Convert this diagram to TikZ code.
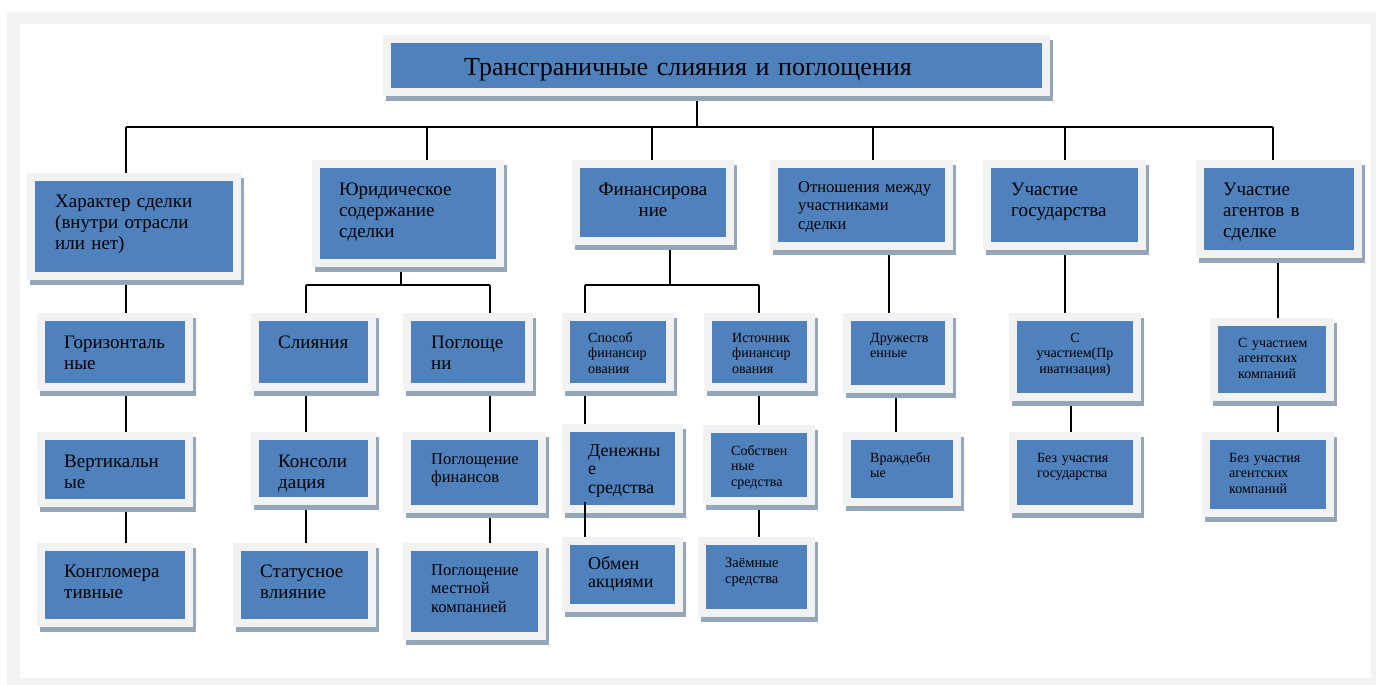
\documentclass[tikz,border=0pt]{standalone}
\usepackage{fontspec}
\setmainfont{Liberation Serif}
\usepackage{xcolor}
\usepackage{tikz}
\usetikzlibrary{calc}
\definecolor{boxblue}{HTML}{4F81BD}
\definecolor{framegray}{HTML}{F2F2F2}
\definecolor{shadowblue}{HTML}{97A5B9}
\pgfdeclarelayer{bg}
\pgfsetlayers{bg,main}
\newcommand\bigtxt{\fontsize{19}{21}\selectfont}
\newcommand\midtxt{\fontsize{16.5}{18.5}\selectfont}
\newcommand\smalltxt{\fontsize{14}{15.5}\selectfont}
\tikzstyle{frm}=[fill=framegray,inner sep=0pt,anchor=north west]
\tikzstyle{txt}=[inner sep=0pt,text width=170pt,align=left,anchor=base west,text=black]
\tikzstyle{ctxt}=[txt,align=center,anchor=base]
\tikzstyle{link}=[line width=1.6pt,black]
\newcommand\ubox[5]{%
  \fill[shadowblue] (#2+3,#3+5) rectangle (#4+3,#5+5);
  \node[frm,minimum width=#4-#2,minimum height=#5-#3] (#1) at (#2,#3) {};
  \fill[boxblue] (#2+8,#3+8) rectangle (#4-8,#5-8);
}

\begin{document}
\begin{tikzpicture}[x=1pt,y=-1pt]
	\useasboundingbox (0,0) rectangle (1376,685);
	\begin{pgfonlayer}{bg}
	\fill[framegray] (7,12) rectangle (1376,685);
	\fill[white] (20,24) rectangle (1371,678);
	\end{pgfonlayer}
	% title and first row
	\ubox{ttl}{383}{35}{1050}{96}
	\node[ctxt,text width=600pt,font=\fontsize{26}{28}\selectfont] (ttlt) at (688,76) {Трансграничные слияния и поглощения};
	\ubox{n1}{27}{173}{241}{280}
	\node[txt,font=\bigtxt] (n1t) at (55,207) {Характер сделки\\(внутри отрасли\\или нет)};
	\ubox{n2}{312}{160}{504}{267}
	\node[txt,font=\bigtxt] (n2t) at (339,195) {Юридическое\\содержание\\сделки};
	\ubox{n3}{572}{160}{734}{245}
	\node[ctxt,font=\bigtxt] (n3t) at (653,195) {Финансирова\\ние};
	\ubox{n4}{770}{160}{953}{250}
	\node[txt,font=\midtxt] (n4t) at (798,192) {Отношения между\\участниками\\сделки};
	\ubox{n5}{983}{160}{1146}{250}
	\node[txt,font=\bigtxt] (n5t) at (1011,195) {Участие\\государства};
	\ubox{n6}{1196}{160}{1362}{258}
	\node[txt,font=\bigtxt] (n6t) at (1223,195) {Участие\\агентов в\\сделке};
	% second row and below
	\ubox{g1}{37}{313}{193}{391}
	\node[txt,font=\bigtxt] (g1t) at (64,348) {Горизонталь\\ные};
	\ubox{g2}{37}{432}{193}{507}
	\node[txt,font=\bigtxt] (g2t) at (64,467) {Вертикальн\\ые};
	\ubox{g3}{37}{543}{193}{627}
	\node[txt,font=\bigtxt] (g3t) at (64,577) {Конгломера\\тивные};
	\ubox{s1}{251}{313}{376}{391}
	\node[txt,font=\bigtxt] (s1t) at (278,348) {Слияния};
	\ubox{s2}{251}{432}{376}{505}
	\node[txt,font=\bigtxt] (s2t) at (278,467) {Консоли\\дация};
	\ubox{s3}{233}{543}{376}{627}
	\node[txt,font=\bigtxt] (s3t) at (260,577) {Статусное\\влияние};
	\ubox{p1}{403}{313}{533}{391}
	\node[txt,font=\bigtxt] (p1t) at (431,348) {Поглоще\\ни};
	\ubox{p2}{403}{432}{546}{513}
	\node[txt,font=\midtxt] (p2t) at (431,464) {Поглощение\\финансов};
	\ubox{p3}{403}{543}{546}{640}
	\node[txt,font=\midtxt] (p3t) at (431,575) {Поглощение\\местной\\компанией};
	\ubox{f1}{562}{313}{674}{391}
	\node[txt,font=\smalltxt] (f1t) at (588,342) {Способ\\финансир\\ования};
	\ubox{f2}{562}{424}{683}{513}
	\node[txt,font=\fontsize{18}{18.5}\selectfont] (f2t) at (588,456) {Денежны\\е\\средства};
	\ubox{f3}{562}{537}{683}{612}
	\node[txt,font=\fontsize{18}{18.5}\selectfont] (f3t) at (588,569) {Обмен\\акциями};
	\ubox{i1}{704}{313}{815}{391}
	\node[txt,font=\smalltxt] (i1t) at (732,342) {Источник\\финансир\\ования};
	\ubox{i2}{703}{425}{815}{505}
	\node[txt,font=\smalltxt] (i2t) at (731,455) {Собствен\\ные\\средства};
	\ubox{i3}{698}{537}{815}{617}
	\node[txt,font=\fontsize{14.5}{16}\selectfont] (i3t) at (725,567) {Заёмные\\средства};
	\ubox{r1}{843}{313}{953}{393}
	\node[txt,font=\smalltxt] (r1t) at (870,342) {Дружеств\\енные};
	\ubox{r2}{843}{432}{961}{506}
	\node[txt,font=\smalltxt] (r2t) at (870,462) {Враждебн\\ые};
	\ubox{c1}{1009}{313}{1141}{401}
	\node[ctxt,font=\smalltxt] (c1t) at (1075,342) {С\\участием(Пр\\иватизация)};
	\ubox{c2}{1009}{432}{1141}{513}
	\node[txt,font=\smalltxt] (c2t) at (1037,462) {Без участия\\государства};
	\ubox{a1}{1210}{318}{1334}{401}
	\node[txt,font=\smalltxt] (a1t) at (1238,347) {С участием\\агентских\\компаний};
	\ubox{a2}{1202}{432}{1334}{517}
	\node[txt,font=\smalltxt] (a2t) at (1229,462) {Без участия\\агентских\\компаний};
	% connectors
	\begin{pgfonlayer}{bg}
	\coordinate (j0) at (697,127);
	\draw[link] (j0 |- ttl.south) -- (j0);
	\draw[link] (126,127) -- (1273,127);
	\foreach \x/\n in {126/n1,427/n2,652/n3,873/n4,1065/n5,1273/n6}
		\draw[link] (\x,127) -- (\x,0 |- \n.north);
	\coordinate (j2) at (401,285);
	\draw[link] (j2 |- n2.south) -- (j2);
	\draw[link] (306,285) -- (490,285);
	\draw[link] (306,285) -- (306,0 |- s1.north);
	\draw[link] (490,285) -- (490,0 |- p1.north);
	\coordinate (j3) at (670,285);
	\draw[link] (j3 |- n3.south) -- (j3);
	\draw[link] (585,285) -- (759,285);
	\draw[link] (585,285) -- (585,0 |- f1.north);
	\draw[link] (759,285) -- (759,0 |- i1.north);
	\foreach \x/\a/\b in {126/n1/g1,126/g1/g2,126/g2/g3,306/s1/s2,306/s2/s3,490/p1/p2,490/p2/p3,
		585/f1/f2,759/i1/i2,759/i2/i3,889/n4/r1,896/r1/r2,1065/n5/c1,1071/c1/c2,1278/n6/a1,1278/a1/a2}
		\draw[link] (\x,0 |- \a.south) -- (\x,0 |- \b.north);
	\end{pgfonlayer}
	\draw[link] ($(585,0 |- f2.south)+(0,-11)$) -- (585,0 |- f3.north);
\end{tikzpicture}
\end{document}
